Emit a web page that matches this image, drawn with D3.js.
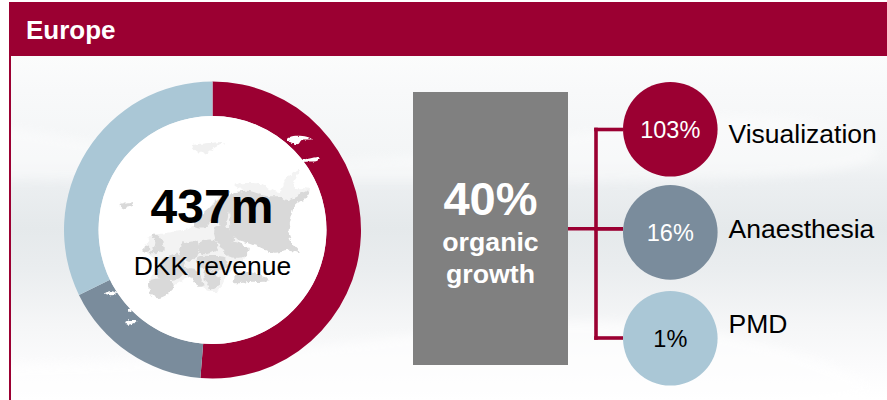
<!DOCTYPE html>
<html>
<head>
<meta charset="utf-8">
<script src="https://cdnjs.cloudflare.com/ajax/libs/d3/7.8.5/d3.min.js"></script>
<style>
  html, body { margin: 0; padding: 0; background: #fff; }
  svg { display: block; }
  text { font-family: "Liberation Sans", Arial, sans-serif; }
</style>
</head>
<body>
<svg id="chart" width="887" height="400"></svg>
<script>
// Revenue split shown by the ring (percent of regional revenue)
const segments = ["Visualization", "Anaesthesia", "PMD"];
const revenueShare = [51.3, 16.5, 32.2];
// Organic growth per business area
const growthValues = [103, 16, 1];
const growthLabels = ["103%", "16%", "1%"];
const regionTitle = "Europe";
const revenueLabel = "437m";
const revenueCaption = "DKK revenue";
const totalGrowth = "40%";
const totalGrowthCaption = ["organic", "growth"];

const RED = "#9b0032", SLATE = "#7a8c9c", ICE = "#aac7d6", GREY = "#808080";
const colour = d3.scaleOrdinal().domain(segments).range([RED, SLATE, ICE]);

const svg = d3.select("#chart");
const defs = svg.append("defs");

// Panel backdrop: soft horizontal bands of pale grey
const wash = defs.append("linearGradient").attr("id", "wash")
  .attr("gradientUnits", "userSpaceOnUse")
  .attr("x1", 0).attr("x2", 0).attr("y1", 56).attr("y2", 400);
[[0, "#fbfcfc"], [0.1, "#f8f9fa"], [0.3, "#f3f5f6"], [0.36, "#eceff1"], [0.5, "#e5e9eb"],
 [0.62, "#eaedef"], [0.78, "#f5f6f7"], [0.9, "#fbfbfc"], [1, "#ffffff"]]
  .forEach(([o, c]) => wash.append("stop").attr("offset", o).attr("stop-color", c));

defs.append("filter").attr("id", "soft").append("feGaussianBlur").attr("stdDeviation", 5);
// Rough coastline effect for the land shapes
function roughFilter(id, scale, frequency) {
  const f = defs.append("filter").attr("id", id)
    .attr("x", "-15%").attr("y", "-15%").attr("width", "130%").attr("height", "130%");
  f.append("feTurbulence").attr("type", "fractalNoise").attr("baseFrequency", frequency)
    .attr("numOctaves", 2).attr("seed", 4).attr("result", "noise");
  f.append("feDisplacementMap").attr("in", "SourceGraphic").attr("in2", "noise")
    .attr("scale", scale).attr("xChannelSelector", "R").attr("yChannelSelector", "G");
}
roughFilter("rough", 16, 0.07);
roughFilter("fine", 9, 0.18);
defs.append("clipPath").attr("id", "panelClip").append("rect")
  .attr("x", 11).attr("y", 56).attr("width", 876).attr("height", 344);

const panel = svg.append("g").attr("clip-path", "url(#panelClip)");
panel.append("rect").attr("x", 11).attr("y", 56).attr("width", 876).attr("height", 344).attr("fill", "url(#wash)");
const veil = d3.line().curve(d3.curveBasis);
// Light sweep in the upper panel and a second one towards the bottom
panel.append("path")
  .attr("d", veil([[0, 125], [250, 170], [500, 150], [720, 104], [887, 131], [887, 180], [500, 184], [0, 180]]) + "Z")
  .attr("fill", "#fff").attr("opacity", 0.4).attr("filter", "url(#soft)");
panel.append("path")
  .attr("d", veil([[0, 365], [300, 355], [620, 300], [887, 375], [887, 420], [0, 420]]) + "Z")
  .attr("fill", "#fff").attr("opacity", 0.6).attr("filter", "url(#soft)");

// Frame and title bar
svg.append("rect").attr("x", 9).attr("y", 2).attr("width", 878).attr("height", 54).attr("fill", RED);
svg.append("rect").attr("x", 9).attr("y", 2).attr("width", 2).attr("height", 398).attr("fill", RED);
svg.append("text").attr("x", 26).attr("y", 39)
  .attr("font-size", 26).attr("font-weight", 700).attr("fill", "#fff").text(regionTitle);

// Revenue ring
const ringCentre = [212.5, 230];
const pie = d3.pie().sort(null);
const arc = d3.arc().innerRadius(114).outerRadius(148.5);
const ring = svg.append("g").attr("transform", `translate(${ringCentre})`);
ring.selectAll("path").data(pie(revenueShare)).join("path")
  .attr("d", arc).attr("fill", (d, i) => colour(segments[i]));
ring.append("circle").attr("r", 114).attr("fill", "#fff");

// Europe silhouette behind the ring's labels
const seas = [
  // Faint continental backing that ties the countries together
  [[150,350],[190,340],[280,320],[330,260],[380,210],[400,340],[440,400],[380,470],[350,515],[310,505],[280,470],[220,500],[170,535],[145,490],[175,430],[140,395]],
  // Arctic coast east of the White Sea
  [[400,195],[470,190],[540,215],[560,175],[600,150],[580,200],[630,208],[600,240],[480,225]]
];
const land = [
  // Russia and its northern coast
  [[395,225],[440,212],[500,228],[540,230],[560,240],[600,224],[625,212],[620,235],[598,245],[582,262],[572,300],[566,340],[578,370],[600,398],[570,392],[520,398],[480,382],[440,368],[398,348],[390,310]],
  // Fennoscandia
  [[280,318],[302,288],[335,258],[370,218],[388,214],[382,298],[370,320],[340,302],[312,325]],
  // Baltics and Belarus
  [[346,322],[380,318],[402,358],[386,374],[350,366]],
  // Poland and Germany
  [[296,370],[342,360],[352,386],[330,400],[300,400]],
  [[244,372],[288,364],[292,406],[266,426],[240,406]],
  // Ukraine
  [[362,376],[404,366],[446,388],[430,410],[384,408]],
  // Central Europe and the Balkans
  [[292,412],[340,408],[378,414],[380,446],[346,452],[300,442]],
  [[312,454],[346,458],[360,490],[336,508],[316,482]],
  // France
  [[174,470],[182,426],[232,402],[258,440],[240,472],[210,480]],
  // Iberia
  [[146,486],[200,476],[224,496],[198,526],[170,534],[152,520]],
  // Italy
  [[258,448],[286,448],[310,494],[296,500],[270,470]],
  // Great Britain and Ireland
  [[156,346],[178,350],[190,390],[150,398],[166,372]],
  [[132,376],[150,378],[146,394],[132,394]],
  // Iceland
  [[58,255],[80,247],[102,250],[86,262],[66,264]],
  // Turkey and the Caucasus
  [[400,476],[440,456],[510,482],[450,486],[400,488]]
];
const shade = d3.line().curve(d3.curveCatmullRomClosed.alpha(0.5));
const mapLayer = svg.append("g").attr("transform", "translate(100,120) scale(0.3333)");
mapLayer.append("g").attr("filter", "url(#rough)")
  .selectAll("path.sea").data(seas).join("path").attr("class", "sea")
  .attr("d", shade).attr("fill", "#f3f3f3");
mapLayer.append("g").attr("filter", "url(#rough)")
  .selectAll("path.land").data(land).join("path").attr("class", "land")
  .attr("d", shade).attr("fill", "#d9d9d9");

// Arctic islands, pale on the panel and white where they cross the ring
const paleIslands = [
  [[278,78],[320,70],[372,68],[340,85],[320,100],[295,95]]
];
mapLayer.append("g").attr("filter", "url(#rough)")
  .selectAll("path.pale").data(paleIslands).join("path").attr("class", "pale")
  .attr("d", shade).attr("fill", "#f0f0f0");
const whiteIslands = [
  [[560,58],[580,48],[620,50],[636,58],[605,60],[595,72],[570,66]],
  [[580,128],[625,116],[660,112],[652,122],[610,126],[590,136]],
  [[15,520],[30,514],[48,518],[35,526]],
  [[76,606],[95,600],[110,602],[100,610],[82,614]],
  [[84,570],[92,566],[94,574],[86,576]]
];
mapLayer.append("g").attr("filter", "url(#fine)")
  .selectAll("path.white").data(whiteIslands).join("path").attr("class", "white")
  .attr("d", shade).attr("fill", "#fff");

// Ring labels
svg.append("text").attr("x", 212).attr("y", 222.5).attr("text-anchor", "middle")
  .attr("font-size", 48).attr("font-weight", 700).attr("fill", "#000").text(revenueLabel);
svg.append("text").attr("x", 212.5).attr("y", 275).attr("text-anchor", "middle")
  .attr("font-size", 26.5).attr("fill", "#000").text(revenueCaption);

// Organic growth block
svg.append("rect").attr("x", 413).attr("y", 92).attr("width", 155).attr("height", 273).attr("fill", GREY);
svg.append("text").attr("x", 490.5).attr("y", 215).attr("text-anchor", "middle")
  .attr("font-size", 47).attr("font-weight", 700).attr("fill", "#fff").text(totalGrowth);
svg.selectAll("text.caption").data(totalGrowthCaption).join("text").attr("class", "caption")
  .attr("x", 490.5).attr("y", (d, i) => 251 + i * 31.7).attr("text-anchor", "middle")
  .attr("font-size", 26.7).attr("font-weight", 700).attr("fill", "#fff").text(d => d);

// Connector tree from the block to each business area
const nodeX = 670.3, nodeR = 47.3, trunkX = 596;
const nodeY = d3.scaleOrdinal().domain(segments).range([129.3, 232.4, 338.3]);
const connectorY = d3.scaleOrdinal().domain(segments).range([129.5, 228.8, 338]);
const connectors = svg.append("g").attr("stroke", RED).attr("stroke-width", 3.6).attr("fill", "none");
connectors.append("path").attr("d", d3.line()([[trunkX, connectorY(segments[0]) - 1.8], [trunkX, connectorY(segments[2]) + 1.8]]));
connectors.append("path").attr("d", d3.line()([[568, 228.8], [nodeX - nodeR, 228.8]]));
connectors.selectAll("path.branch").data(segments).join("path").attr("class", "branch")
  .attr("d", d => d3.line()([[trunkX - 1.8, connectorY(d)], [nodeX - nodeR, connectorY(d)]]));

// Business area nodes
const nameBaseline = [143, 237.7, 332.7];
const valueBaseline = [137.7, 241, 346.7];
const nodes = svg.append("g").selectAll("g").data(segments).join("g");
nodes.append("circle").attr("cx", nodeX).attr("cy", d => nodeY(d)).attr("r", nodeR).attr("fill", d => colour(d));
nodes.append("text").attr("x", nodeX).attr("y", (d, i) => valueBaseline[i]).attr("text-anchor", "middle")
  .attr("font-size", 23.5).attr("fill", (d, i) => i === 2 ? "#000" : "#fff").text((d, i) => growthLabels[i]);
nodes.append("text").attr("x", 728.5).attr("y", (d, i) => nameBaseline[i])
  .attr("font-size", 26.5).attr("fill", "#000").text(d => d);
</script>
</body>
</html>
